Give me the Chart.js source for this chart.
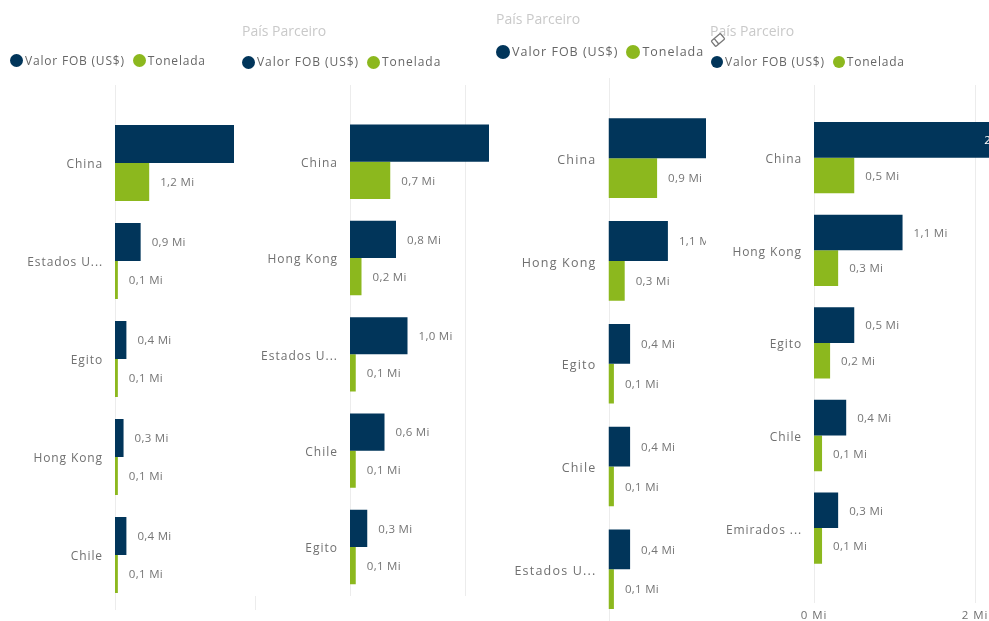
<!DOCTYPE html>
<html lang="pt-BR">
<head>
<meta charset="utf-8">
<title>País Parceiro</title>
<script src="https://cdn.jsdelivr.net/npm/chart.js@4"></script>
<style>
  html, body { margin: 0; padding: 0; background: #fff; overflow: hidden; width: 989px; height: 621px; }
  body { position: relative; font-family: "Open Sans", sans-serif; }
  canvas { position: absolute; top: 0; }
  .titulo { position: absolute; color: #c9c9c9; font-size: 14px; line-height: 18px; white-space: nowrap; }
  .legenda { position: absolute; display: flex; align-items: center; color: #666; line-height: 16px; white-space: nowrap; }
  .legenda i { display: block; border-radius: 50%; margin-right: 2px; }
  .legenda span { margin-right: 8px; }
  .traco { position: absolute; left: 255px; top: 596px; width: 1px; height: 14px; background: #ececec; }
  .borracha { position: absolute; left: 710px; top: 32px; z-index: 2; }
</style>
</head>
<body>
<div class="traco"></div>
<svg class="borracha" width="16" height="16" viewBox="0 0 16 16">
  <g transform="rotate(-40 8 8)" fill="#fff" stroke="#777" stroke-width="1.3">
    <rect x="2" y="4.5" width="12" height="7" rx="1"></rect>
    <line x1="6" y1="4.5" x2="6" y2="11.5"></line>
  </g>
</svg>
<script>
const NAVY = "#01355a";
const GREEN = "#8cb81e";
const FONT = '"Open Sans", sans-serif';
const SERIES_NAMES = ["Valor FOB (US$)", "Tonelada"];
const TITLE_TEXT = "País Parceiro";

// one set of arrays per panel, in the order the bars are stacked
const categories1 = ["China", "Estados U...", "Egito", "Hong Kong", "Chile"];
const fob1 = [6.0, 0.9, 0.4, 0.3, 0.4];
const ton1 = [1.2, 0.1, 0.1, 0.1, 0.1];

const categories2 = ["China", "Hong Kong", "Estados U...", "Chile", "Egito"];
const fob2 = [3.3, 0.8, 1.0, 0.6, 0.3];
const ton2 = [0.7, 0.2, 0.1, 0.1, 0.1];

const categories3 = ["China", "Hong Kong", "Egito", "Chile", "Estados U..."];
const fob3 = [2.7, 1.1, 0.4, 0.4, 0.4];
const ton3 = [0.9, 0.3, 0.1, 0.1, 0.1];

const categories4 = ["China", "Hong Kong", "Egito", "Chile", "Emirados ..."];
const fob4 = [2.6, 1.1, 0.5, 0.4, 0.3];
const ton4 = [0.5, 0.3, 0.2, 0.1, 0.1];

const xTickValues = [0, 2];

function formatMi(v) {
  return v.toFixed(1).replace(".", ",") + " Mi";
}

// gridlines run past the plot area, so they are stroked here instead of by the scale
const longGrid = {
  id: "longGrid",
  beforeDatasetsDraw(chart, args, opts) {
    const ctx = chart.ctx;
    const x = chart.scales.x;
    ctx.save();
    ctx.strokeStyle = "#ececec";
    ctx.lineWidth = 1;
    x.ticks.forEach((t, i) => {
      const px = Math.round(x.getPixelForTick(i)) + 0.5;
      ctx.beginPath();
      ctx.moveTo(px, opts.top);
      ctx.lineTo(px, opts.bottom);
      ctx.stroke();
    });
    ctx.restore();
  },
};

// category names sit a little under the band centre, which tick options can't do
const categoryLabels = {
  id: "categoryLabels",
  afterDraw(chart, args, opts) {
    const ctx = chart.ctx;
    const y = chart.scales.y;
    ctx.save();
    ctx.font = opts.size + "px " + FONT;
    ctx.letterSpacing = opts.track + "px";
    ctx.fillStyle = "#707070";
    ctx.textAlign = "right";
    ctx.textBaseline = "middle";
    chart.data.labels.forEach((name, i) => {
      ctx.fillText(name, y.right - 12, y.getPixelForTick(i) + 2);
    });
    ctx.restore();
  },
};

// value labels: outside the bar end, or white inside when the bar runs off the canvas
const barLabels = {
  id: "barLabels",
  afterDatasetsDraw(chart) {
    const ctx = chart.ctx;
    ctx.save();
    ctx.font = "11.5px " + FONT;
    ctx.letterSpacing = "0.3px";
    ctx.textBaseline = "middle";
    chart.data.datasets.forEach((ds, d) => {
      chart.getDatasetMeta(d).data.forEach((bar, i) => {
        const text = formatMi(ds.data[i]);
        if (bar.x > chart.width) {
          ctx.fillStyle = "#fff";
          ctx.textAlign = "right";
          ctx.fillText(text, bar.x - 5, bar.y + 1);
        } else {
          ctx.fillStyle = "#757575";
          ctx.textAlign = "left";
          ctx.fillText(text, bar.x + 11, bar.y + 1);
        }
      });
    });
    ctx.restore();
  },
};

const spacing = {
  id: "spacing",
  beforeDraw(chart) { chart.ctx.letterSpacing = "0.9px"; },
};

function addHeader(p) {
  if (p.titleY !== null) {
    const t = document.createElement("div");
    t.className = "titulo";
    t.textContent = TITLE_TEXT;
    t.style.left = p.left + "px";
    t.style.top = p.titleY + "px";
    document.body.appendChild(t);
  }
  const lg = document.createElement("div");
  lg.className = "legenda";
  lg.style.left = p.legendX + "px";
  lg.style.top = p.legendY + "px";
  lg.style.fontSize = p.legendSize + "px";
  lg.style.letterSpacing = p.legendTrack + "px";
  SERIES_NAMES.forEach((name, i) => {
    const dot = document.createElement("i");
    dot.style.width = dot.style.height = p.dot + "px";
    dot.style.background = i === 0 ? NAVY : GREEN;
    const label = document.createElement("span");
    label.textContent = name;
    lg.appendChild(dot);
    lg.appendChild(label);
  });
  document.body.appendChild(lg);
}

function drawPanel(p, categories, fob, ton) {
  const canvas = document.createElement("canvas");
  canvas.width = p.width;
  canvas.height = 621;
  canvas.style.left = p.left + "px";
  document.body.appendChild(canvas);
  addHeader(p);

  return new Chart(canvas, {
    type: "bar",
    data: {
      labels: categories,
      datasets: [
        { label: SERIES_NAMES[0], data: fob, backgroundColor: NAVY },
        { label: SERIES_NAMES[1], data: ton, backgroundColor: GREEN },
      ],
    },
    options: {
      indexAxis: "y",
      responsive: false,
      animation: false,
      layout: { autoPadding: false, padding: { top: p.areaTop, bottom: 0, left: 0, right: 0 } },
      datasets: { bar: { categoryPercentage: p.group, barPercentage: 1 } },
      plugins: {
        legend: { display: false },
        title: { display: false },
        tooltip: { enabled: false },
        longGrid: { top: p.gridTop, bottom: p.gridBottom },
        categoryLabels: { size: p.catSize, track: p.catTrack },
      },
      scales: {
        x: {
          min: 0,
          max: (p.width - p.axisX) / p.pxPerMi,
          grid: { display: false, drawTicks: false, tickLength: 0 },
          border: { display: false },
          afterBuildTicks(axis) {
            axis.ticks = xTickValues.filter((v) => v <= axis.max && (p.tickEvery === 2 || v === 0)).map((value) => ({ value }));
          },
          // label overhang must not eat into the plot width
          afterFit(axis) {
            axis.height = 621 - p.areaBottom;
            axis.paddingLeft = 0;
            axis.paddingRight = 0;
          },
          ticks: {
            display: p.showTicks,
            autoSkip: false,
            maxRotation: 0,
            padding: 34,
            color: "#707070",
            font: { family: FONT, size: 11.5 },
            callback: (v) => v + " Mi",
          },
        },
        y: {
          grid: { display: false, drawTicks: false, tickLength: 0 },
          border: { display: false },
          afterFit(axis) {
            axis.width = p.axisX;
            axis.paddingTop = 0;
            axis.paddingBottom = 0;
          },
          ticks: { display: false },
        },
      },
    },
    plugins: [spacing, longGrid, barLabels, categoryLabels],
  });
}

drawPanel({ left: 0, width: 234, axisX: 115, pxPerMi: 28.5, tickEvery: 5, showTicks: false,
  areaTop: 114, areaBottom: 604, group: 0.776, gridTop: 85, gridBottom: 610, catSize: 12, catTrack: 0.9,
  titleY: null, legendX: 10, legendY: 52.5, legendSize: 12, legendTrack: 0.8, dot: 13 }, categories1, fob1, ton1);
drawPanel({ left: 242, width: 247, axisX: 108, pxPerMi: 57.5, tickEvery: 2, showTicks: false,
  areaTop: 113.6, areaBottom: 595.1, group: 0.773, gridTop: 85, gridBottom: 596, catSize: 12, catTrack: 1,
  titleY: 22, legendX: 242, legendY: 54, legendSize: 12, legendTrack: 0.95, dot: 13 }, categories2, fob2, ton2);
drawPanel({ left: 496, width: 210, axisX: 112.5, pxPerMi: 54, tickEvery: 5, showTicks: false,
  areaTop: 106.8, areaBottom: 620.6, group: 0.775, gridTop: 78, gridBottom: 621, catSize: 12.5, catTrack: 1.2,
  titleY: 10, legendX: 496, legendY: 44, legendSize: 12.5, legendTrack: 1.0, dot: 14 }, categories3, fob3, ton3);
drawPanel({ left: 710, width: 300, axisX: 104, pxPerMi: 80.5, tickEvery: 2, showTicks: true,
  areaTop: 111.4, areaBottom: 574.4, group: 0.77, gridTop: 85, gridBottom: 603, catSize: 12, catTrack: 0.9,
  titleY: 22, legendX: 711, legendY: 54, legendSize: 12, legendTrack: 0.8, dot: 12 }, categories4, fob4, ton4);
</script>
</body>
</html>
